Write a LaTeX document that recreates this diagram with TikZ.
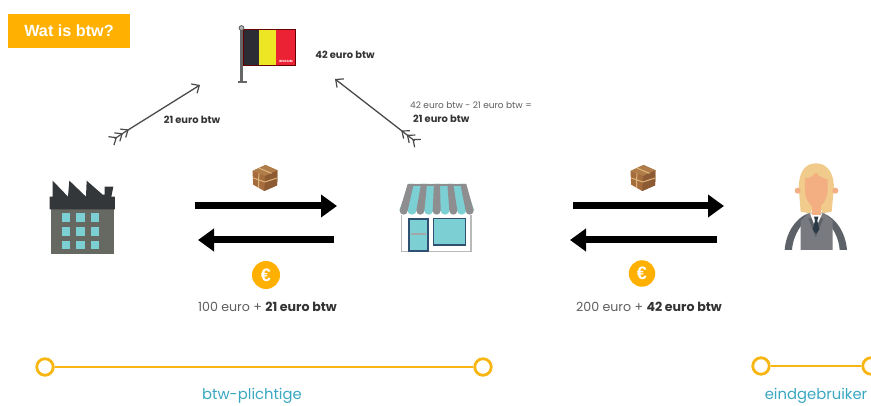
\documentclass[tikz,border=0pt]{standalone}
\usepackage{fontspec}
\setmainfont{Poppins}
\newfontfamily\headfont{Liberation Sans}
\usetikzlibrary{arrows.meta}
\definecolor{amber}{HTML}{FFB000}
\definecolor{linegold}{HTML}{F8B612}
\definecolor{tealtxt}{HTML}{3AA8C1}
\definecolor{txtgray}{HTML}{5E5E5E}
\definecolor{txtdark}{HTML}{333333}
\definecolor{thinarrow}{HTML}{4A4A4A}
\definecolor{aqua}{HTML}{7CD0D4}
\definecolor{navy}{HTML}{2F5070}
\definecolor{awning}{HTML}{8E8E90}
\definecolor{factdark}{HTML}{34373A}
\definecolor{factwall}{HTML}{666862}
\definecolor{flagdark}{HTML}{2C2C34}
\definecolor{flagyel}{HTML}{EDE624}
\definecolor{flagred}{HTML}{EB2233}
\definecolor{boxa}{HTML}{A56C3E}
\definecolor{boxb}{HTML}{8C5A33}
\definecolor{boxc}{HTML}{B07C4A}
\definecolor{tape}{HTML}{DDB67A}
\definecolor{hair}{HTML}{F0CB8C}
\definecolor{skin}{HTML}{F3AE82}
\definecolor{vest}{HTML}{787A80}
\definecolor{sleeve}{HTML}{5C6268}
\definecolor{tie}{HTML}{2C3A46}
\tikzset{
  x=1pt,y=-1pt,
  thickarrow/.style={line width=7pt,black,-{Triangle[length=16pt,width=22pt]}},
  thinshaft/.style={line width=1.3pt,thinarrow,-{Straight Barb[length=6pt,width=11pt,line width=1.2pt]}},
  feather/.style={line width=1.2pt,thinarrow},
  ringnode/.style={circle,draw=linegold,line width=2.8pt,fill=white,minimum size=16.5pt,inner sep=0pt},
  timeline/.style={linegold,line width=2.8pt},
  coinnode/.style={circle,fill=amber,text=white,inner sep=0pt,font=\headfont\bfseries\fontsize{18}{18}\selectfont},
  lab/.style={inner sep=0pt,text=txtgray},
  boldlab/.style={inner sep=0pt,text=txtdark,font=\bfseries\fontsize{9.9}{11}\selectfont},
  teallab/.style={inner sep=0pt,text=tealtxt,font=\fontsize{14.8}{16}\selectfont}
}
\newcommand{\parcel}[2]{%
  \begin{scope}[shift={(#1,#2)},scale=1/3]
    \fill[boxa] (0,-39)--(36,-23)--(35,22)--(-4,39)--(-37,20)--(-39,-21)--cycle;
    \fill[boxc] (0,-39)--(36,-23)--(-1,-6)--(-39,-21)--cycle;
    \fill[boxb] (-1,-6)--(36,-23)--(35,22)--(-4,39)--cycle;
    \draw[tape,line width=1pt] (-20,-30)--(18,-14) (-20,-14)--(-21,30) (-37,0)--(-2,12)--(35,0);
  \end{scope}}
\newcommand{\fletching}[3]{%
  \begin{scope}[shift={(#1,#2)},rotate=#3]
    \draw[feather] (-16,0)--(0,0);
    \foreach \d in {0,-7,-14}{
      \draw[feather] (\d-6,-5)--(\d,0)--(\d-6,5);
    }
  \end{scope}}
\begin{document}
\begin{tikzpicture}
\useasboundingbox (0,0) rectangle (871,406);
\fill[white] (0,0) rectangle (871,406);

% title
\node[fill=amber,minimum width=122pt,minimum height=34pt,inner sep=0pt,text=white,font=\headfont\bfseries\fontsize{16.2}{17}\selectfont] (title) at (69,31) {Wat is btw?};

% flag
\begin{scope}
  \fill[flagdark] (243,29) rectangle (259,65);
  \fill[flagyel] (259,29) rectangle (276,65);
  \fill[flagred] (276,29) rectangle (295,65);
  \draw[black!60!red,line width=.5pt] (243,29) rectangle (295,65);
  \draw[gray!80!black,line width=2.4pt] (241.5,30) -- (241.5,82);
  \fill[gray!80!black] (238,81.5) rectangle (247,83.5);
  \filldraw[fill=gray!60,draw=gray!70!black,line width=.8pt] (241.5,28) circle (2.4);
  \node[inner sep=0pt,text=white,font=\bfseries\fontsize{3}{3}\selectfont] (belgium) at (286,61) {BELGIUM};
\end{scope}
\coordinate (govleft) at (200,85);
\coordinate (govright) at (335,79);
\coordinate (factoryout) at (128,130);
\coordinate (shopout) at (402,131);
\draw[thinshaft] (factoryout) -- (govleft);
\draw[thinshaft] (shopout) -- (govright);
\fletching{128}{130}{33}
\fletching{402}{131}{142}

\node[boldlab] (l21a) at (192,120) {21 euro btw};
\node[boldlab] (l42) at (345,55) {42 euro btw};
\node[lab,anchor=west,font=\fontsize{9}{10}\selectfont] (lcalc) at (410,105) {42 euro btw - 21 euro btw =};
\node[boldlab,anchor=west] (l21b) at (413,119) {21 euro btw};

% factory
\begin{scope}[shift={(30,160)},scale=1/3]
  \fill[factwall] (64,148) rectangle (253,283);
  \fill[factdark] (59,148) -- (59,110) -- (68,110) -- (68,62) -- (114,110) -- (118,62) -- (168,110) -- (170,62) -- (218,104) -- (224,104) -- (224,80) -- (250,80) -- (244,110) -- (255,110) -- (255,148) -- cycle;
  \foreach \x in {108,151,195}{\foreach \y in {173,215,255}{
    \fill[aqua] (\x-13,\y-13) rectangle (\x+13,\y+13);}}
\end{scope}

% shop
\begin{scope}[shift={(300,60)},scale=1/3]
  \fill[white] (305,465) rectangle (513,575);
  \draw[gray!55,line width=1.1pt] (305,465) -- (305,575) -- (513,575) -- (513,465);
  \fill[aqua] (330,372) -- (495,372) -- (522,450) -- (298,450) -- cycle;
  \foreach \b in {336,386,435,485}{
    \fill[aqua] (\b-14,450) arc[start angle=180,end angle=0,radius=14] -- cycle;}
  \foreach \a/\b in {332/311,372/361,411/410,451/460,490/509}{
    \fill[awning] (\a-9,372) -- (\a+9,372) -- (\b+12,452) arc[start angle=0,end angle=180,radius=12] -- cycle;}
  \fill[awning] (325,372) rectangle (497,378);
  \filldraw[fill=aqua,draw=navy,line width=1.5pt] (327,477) rectangle (384,573);
  \fill[gray!70] (332,518) rectangle (378,526);
  \filldraw[fill=aqua,draw=navy,line width=1.5pt] (401,476) rectangle (497,555);
\end{scope}

% goods and money flows
\coordinate (a1s) at (195,206); \coordinate (a1e) at (337,206);
\coordinate (a2s) at (334,240); \coordinate (a2e) at (198,240);
\coordinate (a3s) at (573,206); \coordinate (a3e) at (724,206);
\coordinate (a4s) at (717,240); \coordinate (a4e) at (570,240);
\draw[thickarrow] (a1s) -- (a1e);
\draw[thickarrow] (a2s) -- (a2e);
\draw[thickarrow] (a3s) -- (a3e);
\draw[thickarrow] (a4s) -- (a4e);
\parcel{265.5}{178}
\parcel{643.5}{178}
\node[coinnode,minimum size=28pt] (coin1) at (266,275) {€};
\node[coinnode,minimum size=26.5pt] (coin2) at (642,273.5) {€};
\node[lab,font=\fontsize{12.6}{14}\selectfont] (l100) at (267.5,307) {100 euro + \textbf{\textcolor{txtdark}{21 euro btw}}};
\node[lab,font=\fontsize{12.6}{14}\selectfont] (l200) at (649,307) {200 euro + \textbf{\textcolor{txtdark}{42 euro btw}}};

% person
\begin{scope}[shift={(560,150)},scale=1/3]
  \fill[sleeve] (745,190) .. controls (705,205) and (678,250) .. (674,300) -- (696,300) .. controls (698,270) and (710,245) .. (725,225) -- cycle;
  \fill[sleeve] (790,190) .. controls (830,205) and (857,250) .. (861,300) -- (839,300) .. controls (837,270) and (825,245) .. (810,225) -- cycle;
  \fill[vest] (722,300) -- (722,212) -- (748,188) -- (790,188) -- (818,212) -- (818,300) -- cycle;
  \fill[sleeve] (745,205) -- (767,262) -- (790,205) -- cycle;
  \fill[white] (750,190) -- (767,235) -- (787,190) -- cycle;
  \fill[tie] (762,200) -- (775,200) -- (772,212) -- (778,238) -- (768,252) -- (758,238) -- (765,212) -- cycle;
  \fill[hair] (768,40) .. controls (735,40) and (718,65) .. (716,110) -- (722,185) -- (750,190) -- (762,170) -- (780,170) -- (788,190) -- (815,185) -- (822,110) .. controls (820,65) and (800,40) .. (768,40) -- cycle;
  \fill[skin] (713,122) circle (9);
  \fill[skin] (826,122) circle (9);
  \fill[skin] (755,150) rectangle (782,195);
  \fill[skin] (735,85) .. controls (750,85) and (760,78) .. (768,68) .. controls (776,80) and (790,85) .. (803,88) -- (803,125) .. controls (800,150) and (785,172) .. (768,172) .. controls (752,172) and (737,150) .. (735,125) -- cycle;
\end{scope}

% groups
\node[ringnode] (r1) at (45,367) {};
\node[ringnode] (r2) at (483,367) {};
\node[ringnode] (r3) at (761,366) {};
\node[ringnode] (r4) at (871,366) {};
\draw[timeline] (r1) -- (r2);
\draw[timeline] (r3) -- (r4);
\node[teallab] (g1) at (252,396) {btw-plichtige};
\node[teallab] (g2) at (816,396) {eindgebruiker};
\end{tikzpicture}
\end{document}
